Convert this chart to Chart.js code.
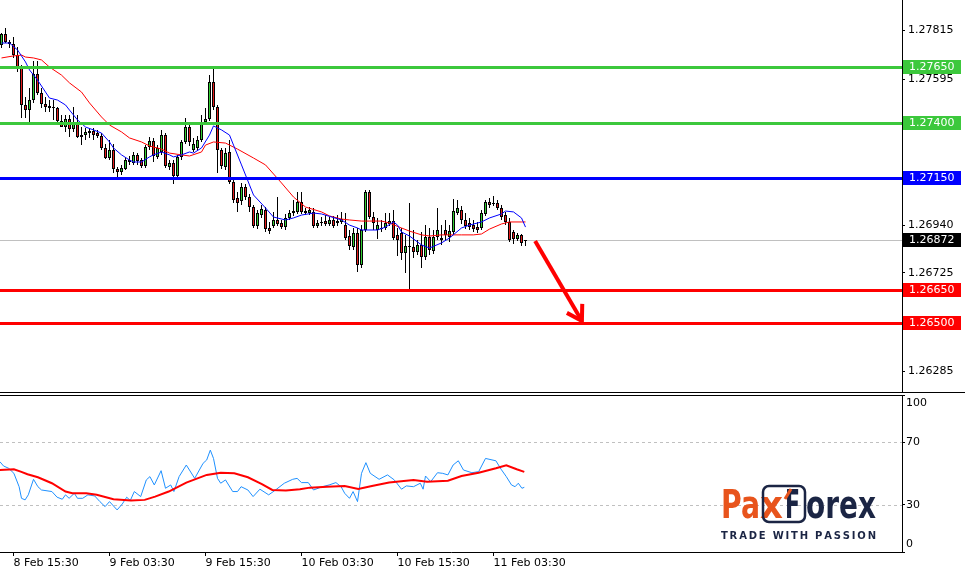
<!DOCTYPE html>
<html>
<head>
<meta charset="utf-8">
<script src="https://cdn.jsdelivr.net/npm/chart.js@4.4.0/dist/chart.umd.min.js"></script>
<style>
  html, body { margin: 0; padding: 0; background: #fff; }
  #wrap { position: relative; width: 965px; height: 570px; overflow: hidden; }
  #main { position: absolute; left: 0; top: 0; width: 965px; height: 393px; }
  #rsi { position: absolute; left: 0; top: 393px; width: 965px; height: 177px; }
</style>
</head>
<body>
<div id="wrap">
  <canvas id="main" width="965" height="393"></canvas>
  <canvas id="rsi" width="965" height="177"></canvas>
</div>
<script>
// GBPUSD-style M30 candles, index 0 = 8 Feb 14:00
const opens = [1.27748,1.27797,1.27762,1.27753,1.27703,1.27645,1.27479,1.27456,1.27501,1.27618,
  1.27533,1.27483,1.27474,1.27465,1.27465,1.27407,1.27380,1.27416,1.27371,1.27394,
  1.27344,1.27344,1.27362,1.27362,1.27353,1.27340,1.27286,1.27241,1.27277,1.27192,
  1.27178,1.27192,1.27232,1.27219,1.27255,1.27232,1.27205,1.27290,1.27317,1.27246,
  1.27268,1.27344,1.27201,1.27219,1.27160,1.27246,1.27313,1.27380,1.27277,1.27286,
  1.27322,1.27403,1.27416,1.27582,1.27470,1.27277,1.27201,1.27268,1.27133,1.27062,
  1.27048,1.27111,1.27066,1.27021,1.26936,1.26985,1.27008,1.26927,1.26936,1.26963,
  1.26949,1.26931,1.26972,1.26994,1.26999,1.27044,1.27003,1.26994,1.26999,1.26936,
  1.26954,1.26958,1.26945,1.26963,1.26949,1.26954,1.26940,1.26891,1.26842,1.26905,
  1.26761,1.26918,1.27088,1.26976,1.26918,1.26922,1.26927,1.26945,1.26958,1.26896,
  1.26905,1.26815,1.26846,1.26842,1.26819,1.26851,1.26797,1.26887,1.26824,1.26887,
  1.26873,1.26918,1.26887,1.26909,1.26994,1.27008,1.26963,1.26949,1.26940,1.26931,
  1.26927,1.26990,1.27044,1.27035,1.27039,1.27017,1.26985,1.26954,1.26909,1.26878,
  1.26896,1.26869];
const highs = [1.27802,1.27824,1.27771,1.27784,1.27739,1.27658,1.27515,1.27555,1.27676,1.27676,
  1.27555,1.27515,1.27501,1.27501,1.27470,1.27434,1.27434,1.27434,1.27470,1.27434,
  1.27380,1.27376,1.27376,1.27376,1.27367,1.27353,1.27304,1.27322,1.27304,1.27201,
  1.27210,1.27246,1.27250,1.27268,1.27263,1.27241,1.27299,1.27335,1.27331,1.27299,
  1.27367,1.27353,1.27232,1.27232,1.27255,1.27322,1.27421,1.27389,1.27331,1.27340,
  1.27434,1.27465,1.27613,1.27649,1.27479,1.27286,1.27286,1.27322,1.27142,1.27088,
  1.27129,1.27124,1.27080,1.27030,1.27008,1.27030,1.27021,1.26954,1.26999,1.27066,
  1.26963,1.26990,1.27008,1.27053,1.27088,1.27088,1.27017,1.27021,1.27017,1.26963,
  1.26976,1.26985,1.26976,1.26981,1.26985,1.26999,1.26994,1.26918,1.26927,1.26927,
  1.26940,1.27097,1.27097,1.26999,1.26972,1.26963,1.26994,1.26994,1.27008,1.26927,
  1.26927,1.26896,1.27039,1.26918,1.26873,1.26909,1.26940,1.26927,1.26918,1.27017,
  1.26940,1.26963,1.26940,1.27057,1.27053,1.27026,1.26994,1.26972,1.26963,1.26954,
  1.27008,1.27053,1.27062,1.27071,1.27053,1.27030,1.26999,1.26972,1.26918,1.26905,
  1.26900,1.26873];
const lows = [1.27735,1.27757,1.27735,1.27690,1.27627,1.27421,1.27421,1.27389,1.27488,1.27524,
  1.27465,1.27447,1.27447,1.27412,1.27403,1.27380,1.27358,1.27335,1.27358,1.27331,
  1.27299,1.27322,1.27331,1.27322,1.27331,1.27277,1.27237,1.27232,1.27174,1.27156,
  1.27165,1.27187,1.27210,1.27210,1.27210,1.27196,1.27196,1.27277,1.27223,1.27237,
  1.27255,1.27196,1.27187,1.27124,1.27151,1.27232,1.27304,1.27295,1.27268,1.27277,
  1.27313,1.27394,1.27407,1.27456,1.27174,1.27192,1.27187,1.27124,1.27039,1.26999,
  1.27030,1.27053,1.26999,1.26927,1.26922,1.26972,1.26909,1.26900,1.26927,1.26936,
  1.26922,1.26918,1.26963,1.26981,1.26990,1.26990,1.26985,1.26985,1.26927,1.26927,
  1.26936,1.26936,1.26936,1.26927,1.26936,1.26945,1.26873,1.26828,1.26828,1.26730,
  1.26747,1.26909,1.26967,1.26918,1.26878,1.26909,1.26918,1.26936,1.26873,1.26801,
  1.26783,1.26725,1.26649,1.26792,1.26806,1.26747,1.26783,1.26806,1.26810,1.26873,
  1.26851,1.26873,1.26864,1.26896,1.26985,1.26945,1.26922,1.26918,1.26909,1.26905,
  1.26918,1.26981,1.27017,1.27026,1.27008,1.26963,1.26940,1.26864,1.26855,1.26869,
  1.26846,1.26846];
const closes = [1.27797,1.27762,1.27753,1.27703,1.27645,1.27479,1.27456,1.27501,1.27618,1.27533,
  1.27483,1.27470,1.27465,1.27470,1.27407,1.27380,1.27416,1.27371,1.27394,1.27335,
  1.27335,1.27358,1.27353,1.27344,1.27340,1.27286,1.27241,1.27277,1.27192,1.27178,
  1.27196,1.27232,1.27223,1.27255,1.27228,1.27205,1.27290,1.27317,1.27250,1.27286,
  1.27344,1.27205,1.27219,1.27160,1.27246,1.27313,1.27380,1.27313,1.27304,1.27322,
  1.27403,1.27416,1.27582,1.27470,1.27277,1.27205,1.27263,1.27133,1.27053,1.27039,
  1.27111,1.27066,1.27021,1.26936,1.26994,1.27012,1.26922,1.26913,1.26963,1.26945,
  1.26931,1.26972,1.26994,1.27003,1.27044,1.26999,1.26994,1.27008,1.26936,1.26949,
  1.26949,1.26945,1.26963,1.26936,1.26958,1.26967,1.26882,1.26846,1.26905,1.26761,
  1.26918,1.27088,1.26976,1.26949,1.26940,1.26927,1.26949,1.26958,1.26882,1.26873,
  1.26815,1.26846,1.26842,1.26819,1.26851,1.26797,1.26887,1.26828,1.26887,1.26918,
  1.26882,1.26896,1.26913,1.27003,1.27017,1.26963,1.26936,1.26931,1.26922,1.26918,
  1.26994,1.27044,1.27030,1.27039,1.27017,1.26976,1.26954,1.26873,1.26878,1.26896,
  1.26860,1.26872];

// moving averages (candle index, price)
const maFastIdx = [0,2,4,6,7,9,11,12,14,16,17,19,21,23,25,27,28,30,32,33,35,37,38,40,42,43,45,47,48,50,
  52,53,55,57,58,60,62,63,66,68,71,73,75,78,80,85,87,89,90,94,96,98,99,100,102,105,107,110,112,115,
  117,120,122,125,126,128,130,131];
const maFast = [1.27757,1.27757,1.27726,1.27672,1.27636,1.27591,1.27537,1.27510,1.27501,1.27479,
  1.27456,1.27412,1.27380,1.27367,1.27353,1.27313,1.27286,1.27255,1.27232,1.27223,
  1.27223,1.27246,1.27255,1.27268,1.27255,1.27246,1.27255,1.27268,1.27263,1.27286,
  1.27344,1.27385,1.27367,1.27344,1.27299,1.27210,1.27120,1.27075,1.27017,1.26976,
  1.26963,1.26972,1.26985,1.26994,1.26990,1.26963,1.26940,1.26927,1.26918,1.26918,
  1.26931,1.26954,1.26940,1.26909,1.26891,1.26851,1.26837,1.26860,1.26882,1.26927,
  1.26940,1.26954,1.26972,1.26990,1.27003,1.26999,1.26972,1.26931];
const maSlowIdx = [0,3,5,6,8,10,12,15,17,20,22,25,27,30,32,35,37,40,42,45,47,50,51,53,56,59,63,66,70,73,
  76,80,82,85,87,90,92,95,97,100,102,105,107,110,113,115,118,120,122,125,127,130,131];
const maSlow = [1.27690,1.27699,1.27703,1.27694,1.27690,1.27681,1.27649,1.27613,1.27578,1.27537,
  1.27488,1.27425,1.27389,1.27358,1.27331,1.27313,1.27295,1.27281,1.27263,1.27255,
  1.27250,1.27268,1.27299,1.27313,1.27308,1.27281,1.27241,1.27210,1.27129,1.27066,
  1.27021,1.26999,1.26981,1.26967,1.26963,1.26958,1.26958,1.26958,1.26949,1.26927,
  1.26913,1.26896,1.26891,1.26896,1.26896,1.26896,1.26896,1.26900,1.26922,1.26945,
  1.26954,1.26954,1.26954];

// RSI and its average
const rsiIdx = [-0.4,0.5,1.8,3.1,4.4,5.0,5.9,6.7,8.0,9.1,10.0,12.6,13.9,15.2,16.0,16.9,18.2,19.0,20.3,21.6,
  23.3,24.6,25.9,27.0,28.9,30.2,31.3,32.2,33.2,34.8,36.2,37.1,38.2,39.9,41.0,42.3,43.1,44.4,46.2,48.3,
  50.4,51.3,52.2,53.0,54.0,54.8,56.0,57.8,59.0,59.9,61.6,62.9,64.6,66.8,68.5,70.7,72.8,73.9,75.0,76.7,
  78.0,80.2,81.9,83.6,84.9,85.8,87.0,87.9,89.0,90.0,91.1,92.2,94.4,96.5,98.2,100.0,101.2,103.0,104.7,105.4,
  106.0,107.3,109.0,110.3,111.6,112.9,114.2,115.5,117.6,119.3,121.0,123.6,124.9,126.2,127.5,128.4,129.2,130.1,130.7];
const rsi = [57.5,54.8,53.3,50.1,41.6,34.2,33.2,36.4,46.3,41.6,39.5,38.5,34.9,33.6,36.4,34.2,37.4,34.2,34.2,36.4,
  35.7,32.1,28.9,32.1,26.8,30.6,34.9,32.8,38.5,35.3,45.9,48.0,42.7,51.8,40.6,42.7,38.5,48.0,55.4,46.9,
  56.5,58.6,64.9,59.6,46.9,43.8,45.9,38.5,38.5,41.6,39.5,35.3,40.0,36.4,39.5,43.8,46.3,46.9,44.2,44.2,
  39.5,41.6,42.7,44.2,41.6,37.4,34.2,38.5,32.1,50.1,56.9,50.1,46.3,49.1,45.9,40.0,42.1,41.6,43.8,40.0,
  48.4,44.8,50.5,50.1,49.1,55.4,58.1,52.2,50.5,51.2,59.6,58.1,52.7,48.0,42.7,41.6,43.8,40.6,41.2];
const rsiMaIdx = [-0.4,3.1,4.8,6.5,9.1,12.6,16.0,17.7,21.2,23.8,28.0,32.4,35.8,38.4,41.8,46.2,51.3,54.8,58.2,61.6,
  65.1,67.7,71.1,74.6,77.1,81.4,85.8,89.2,92.6,96.9,103.0,106.4,111.6,115.0,119.3,123.6,126.2,128.8,130.7];
const rsiMa = [52.2,52.7,51.2,49.5,47.6,43.8,38.5,37.4,37.4,36.4,33.6,32.8,33.2,35.3,38.5,44.2,49.1,50.5,50.1,47.6,
  43.3,39.5,39.1,40.0,41.0,41.6,42.1,40.2,42.1,44.2,45.9,44.8,45.4,48.4,50.5,53.3,55.2,52.7,51.0];

// axes
const priceTicks = [1.27815, 1.27595, 1.27380, 1.27160, 1.26940, 1.26725, 1.26505, 1.26285];
const rsiTicks = [0, 30, 70, 100];
const rsiLevels = [30, 70];
const timeTickIdx = [3, 27, 51, 75, 99, 123];
const timeLabels = ['8 Feb 15:30', '9 Feb 03:30', '9 Feb 15:30', '10 Feb 03:30', '10 Feb 15:30', '11 Feb 03:30'];

// horizontal levels + current price
const levelPrices = [1.27650, 1.27400, 1.27150, 1.26650, 1.26500];
const levelColors = ['#3cc83c', '#3cc83c', '#0000ff', '#ff0000', '#ff0000'];
const lastPrice = 1.26872;
const arrowFrom = [133.4, 1.26869];
const arrowTo = [145.1, 1.26510];

const X_MIN = -0.375, X_MAX = 225.125;
const BULL = '#32cd32', BEAR = '#e41c1c';
const FONT = "'DejaVu Sans', sans-serif";

Chart.defaults.font.family = FONT;
Chart.defaults.font.size = 11;
Chart.defaults.color = '#000';

const zip = (xs, ys) => xs.map((x, k) => ({ x: x, y: ys[k] }));
const wickData = opens.map((_, i) => ({ x: i, y: [lows[i], highs[i]] }));
const bodyData = opens.map((o, i) => ({ x: i, y: [o, closes[i]] }));

const mainOverlay = {
  id: 'mainOverlay',
  beforeDatasetsDraw(chart) {
    const { ctx, chartArea: a } = chart;
    const py = Math.round(chart.scales.y.getPixelForValue(lastPrice));
    ctx.save();
    ctx.fillStyle = '#c0c0c0';
    ctx.fillRect(a.left, py, a.right - a.left, 1);
    ctx.restore();
  },
  afterDatasetsDraw(chart) {
    const { ctx, chartArea: a } = chart;
    const xs = chart.scales.x, ys = chart.scales.y;
    ctx.save();
    levelPrices.forEach((p, k) => {
      const py = Math.round(ys.getPixelForValue(p));
      ctx.fillStyle = levelColors[k];
      ctx.fillRect(a.left, py - 1, a.right - a.left, 3);
    });
    // arrow
    const x0 = xs.getPixelForValue(arrowFrom[0]), y0 = ys.getPixelForValue(arrowFrom[1]);
    const x1 = xs.getPixelForValue(arrowTo[0]), y1 = ys.getPixelForValue(arrowTo[1]);
    ctx.strokeStyle = '#ff0000';
    ctx.lineWidth = 4;
    ctx.lineCap = 'butt';
    ctx.beginPath();
    ctx.moveTo(x0, y0);
    ctx.lineTo(x1, y1);
    ctx.stroke();
    const ang = Math.atan2(y1 - y0, x1 - x0), L = 17;
    ctx.beginPath();
    ctx.moveTo(x1 - L * Math.cos(ang - 0.55), y1 - L * Math.sin(ang - 0.55));
    ctx.lineTo(x1, y1);
    ctx.lineTo(x1 - L * Math.cos(ang + 0.55), y1 - L * Math.sin(ang + 0.55));
    ctx.stroke();
    ctx.restore();
  },
  afterDraw(chart) {
    const { ctx, chartArea: a } = chart;
    const ys = chart.scales.y;
    ctx.save();
    ctx.font = '11px ' + FONT;
    ctx.textBaseline = 'middle';
    const boxes = levelPrices.map((p, k) => [p, levelColors[k]]).concat([[lastPrice, '#000000']]);
    boxes.forEach(([p, c]) => {
      const py = Math.round(ys.getPixelForValue(p));
      ctx.fillStyle = c;
      ctx.fillRect(a.right + 1, py - 7, 58, 14);
      ctx.fillStyle = '#fff';
      ctx.fillText(p.toFixed(5), a.right + 7, py + 0.5);
    });
    // panel separator
    ctx.fillStyle = '#000';
    ctx.fillRect(0, a.bottom, chart.width, 1);
    ctx.restore();
  }
};

function fitText(ctx, txt, x, base, w, font, color) {
  ctx.font = font;
  ctx.fillStyle = color;
  const m = ctx.measureText(txt).width;
  ctx.save();
  ctx.translate(x, base);
  ctx.scale(w / m, 1);
  ctx.fillText(txt, 0, 0);
  ctx.restore();
}

const rsiOverlay = {
  id: 'rsiOverlay',
  beforeDatasetsDraw(chart) {
    const { ctx, chartArea: a } = chart;
    ctx.save();
    ctx.strokeStyle = '#c0c0c0';
    ctx.lineWidth = 1;
    ctx.setLineDash([3, 3]);
    rsiLevels.forEach(v => {
      const py = Math.round(chart.scales.y.getPixelForValue(v)) + 0.5;
      ctx.beginPath();
      ctx.moveTo(a.left, py);
      ctx.lineTo(a.right, py);
      ctx.stroke();
    });
    ctx.restore();
  },
  afterDraw(chart) {
    const { ctx, chartArea: a } = chart;
    const ys = chart.scales.y;
    ctx.save();
    ctx.fillStyle = '#000';
    ctx.fillRect(a.left, a.top, a.right - a.left + 1, 1);
    ctx.font = '11px ' + FONT;
    ctx.textBaseline = 'middle';
    ctx.fillText('100', a.right + 4, ys.getPixelForValue(100) + 8);
    ctx.fillText('0', a.right + 4, ys.getPixelForValue(0) - 8);

    // PaxForex watermark
    const orange = '#e8541c', navy = '#1b2544';
    const base = 125;
    ctx.textBaseline = 'alphabetic';
    fitText(ctx, 'Pa', 721, base, 39, 'bold 39px ' + FONT, orange);
    fitText(ctx, 'x', 760, base, 23, 'bold 39px ' + FONT, orange);
    ctx.strokeStyle = navy;
    ctx.lineWidth = 2.5;
    ctx.beginPath();
    ctx.roundRect(763, 93, 42, 36, 6);
    ctx.stroke();
    fitText(ctx, 'F', 785, base, 15, 'bold 39px ' + FONT, navy);
    ctx.strokeStyle = orange;
    ctx.lineWidth = 3;
    ctx.beginPath();
    ctx.moveTo(791, 96);
    ctx.lineTo(785, 106);
    ctx.stroke();
    fitText(ctx, 'orex', 806, base, 70, 'bold 39px ' + FONT, navy);
    const tag = 'TRADE WITH PASSION';
    ctx.font = 'bold 10px ' + FONT;
    ctx.fillStyle = navy;
    const widths = tag.split('').map(ch => ctx.measureText(ch).width);
    const total = widths.reduce((s, w) => s + w, 0);
    const gap = (155 - total) / (tag.length - 1);
    let cx = 721;
    tag.split('').forEach((ch, k) => { ctx.fillText(ch, cx, 146); cx += widths[k] + gap; });
    ctx.restore();
  }
};

new Chart(document.getElementById('main'), {
  type: 'bar',
  data: {
    datasets: [
      { type: 'bar', data: wickData, backgroundColor: '#000', borderWidth: 0, barThickness: 1,
        grouped: false, inflateAmount: 0, order: 3 },
      { type: 'bar', data: bodyData,
        backgroundColor: c => closes[c.dataIndex] >= opens[c.dataIndex] ? BULL : BEAR,
        borderColor: '#000', borderWidth: 1, borderSkipped: false, barThickness: 3,
        minBarLength: 1, grouped: false, inflateAmount: 0, order: 2 },
      { type: 'line', data: zip(maFastIdx, maFast), borderColor: '#0000ff', borderWidth: 1,
        pointRadius: 0, tension: 0, order: 1 },
      { type: 'line', data: zip(maSlowIdx, maSlow), borderColor: '#ff0000', borderWidth: 1,
        pointRadius: 0, tension: 0, order: 1 }
    ]
  },
  options: {
    responsive: false,
    animation: false,
    devicePixelRatio: 1,
    layout: { autoPadding: false, padding: { left: 0, right: 0, top: 0, bottom: 1 } },
    plugins: { legend: { display: false }, tooltip: { enabled: false } },
    scales: {
      x: { type: 'linear', min: X_MIN, max: X_MAX, offset: false, display: false },
      y: {
        position: 'right', min: 1.26191, max: 1.27950,
        afterFit(s) { s.width = 63; s.paddingTop = 0; s.paddingBottom = 0; },
        afterBuildTicks(s) { s.ticks = priceTicks.map(v => ({ value: v })); },
        ticks: { callback: v => Number(v).toFixed(5), padding: 3, autoSkip: false },
        grid: { drawOnChartArea: false, drawTicks: true, tickLength: 3, color: '#000' },
        border: { display: true, color: '#000' }
      }
    }
  },
  plugins: [mainOverlay]
});

new Chart(document.getElementById('rsi'), {
  type: 'line',
  data: {
    datasets: [
      { data: zip(rsiIdx, rsi), borderColor: '#1e90ff', borderWidth: 1, pointRadius: 0, tension: 0, order: 2 },
      { data: zip(rsiMaIdx, rsiMa), borderColor: '#ff0000', borderWidth: 2, pointRadius: 0, tension: 0, order: 1 }
    ]
  },
  options: {
    responsive: false,
    animation: false,
    devicePixelRatio: 1,
    layout: { autoPadding: false, padding: { left: 0, right: 0, top: 2, bottom: 0 } },
    plugins: { legend: { display: false }, tooltip: { enabled: false } },
    scales: {
      x: {
        type: 'linear', min: X_MIN, max: X_MAX, offset: false,
        afterFit(s) { s.height = 18; s.paddingLeft = 0; s.paddingRight = 0; },
        afterBuildTicks(s) { s.ticks = timeTickIdx.map(v => ({ value: v })); },
        ticks: { align: 'start', padding: 1, autoSkip: false, maxRotation: 0, callback: (v, k) => timeLabels[k] },
        grid: { drawOnChartArea: false, tickLength: 4, color: '#000' },
        border: { color: '#000' }
      },
      y: {
        position: 'right', min: 0, max: 100,
        afterFit(s) { s.width = 63; s.paddingTop = 0; s.paddingBottom = 0; },
        afterBuildTicks(s) { s.ticks = rsiTicks.map(v => ({ value: v })); },
        ticks: { padding: 1, autoSkip: false, callback: v => (v === 30 || v === 70) ? String(v) : '' },
        grid: { drawOnChartArea: false, tickLength: 3, color: '#000' },
        border: { color: '#000' }
      }
    }
  },
  plugins: [rsiOverlay]
});
</script>
</body>
</html>
